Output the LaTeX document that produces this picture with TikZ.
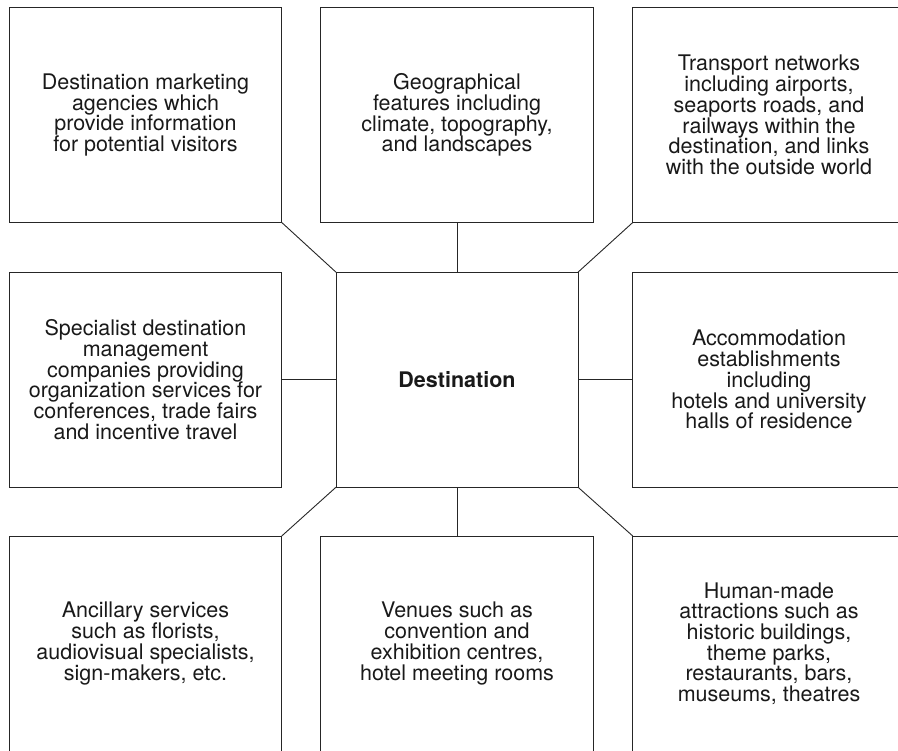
\documentclass[tikz,border=0pt]{standalone}
\usepackage{fontspec}
\setmainfont{TeX Gyre Heros}

\begin{document}
\begin{tikzpicture}[auto, x=1pt, y=-1pt,
    infobox/.style={draw=black!85, line width=0.9pt, minimum width=272.5pt,
      minimum height=215pt, align=center, inner sep=0pt, outer sep=0pt,
      text=black!90, font=\fontsize{21.5}{20.7}\selectfont},
    link/.style={draw=black!85, line width=0.9pt}]
    \clip (0,0) rectangle (898,751);
    \node[infobox] (tl) at (145.5, 115) {Destination marketing\\agencies which\\provide information\\for potential visitors};
    \node[infobox] (tm) at (457, 115) {Geographical\\features including\\climate, topography,\\and landscapes};
    \node[infobox] (tr) at (769, 115) {Transport networks\\including airports,\\seaports roads, and\\railways within the\\destination, and links\\with the outside world};
    \node[infobox] (ml) at (145.5, 379.7) {Specialist destination\\management\\companies providing\\organization services for\\conferences, trade fairs\\and incentive travel};
    \node[infobox, minimum width=242pt] (c) at (457, 379.7) {\textbf{Destination}};
    \node[infobox] (mr) at (769, 379.7) {Accommodation\\establishments\\including\\hotels and university\\halls of residence};
    \node[infobox] (bl) at (145.5, 643.5) {Ancillary services\\such as florists,\\audiovisual specialists,\\sign-makers, etc.};
    \node[infobox] (bm) at (457, 643.5) {Venues such as\\convention and\\exhibition centres,\\hotel meeting rooms};
    \node[infobox] (br) at (769, 643.5) {Human-made\\attractions such as\\historic buildings,\\theme parks,\\restaurants, bars,\\museums, theatres};
    \draw [link] (tl.south east) to (c.north west);
    \draw [link] (tm.south) to (c.north);
    \draw [link] (tr.south west) to (c.north east);
    \draw [link] (ml.east) to (c.west);
    \draw [link] (mr.west) to (c.east);
    \draw [link] (bl.north east) to (c.south west);
    \draw [link] (bm.north) to (c.south);
    \draw [link] (br.north west) to (c.south east);
  \end{tikzpicture}
\end{document}
